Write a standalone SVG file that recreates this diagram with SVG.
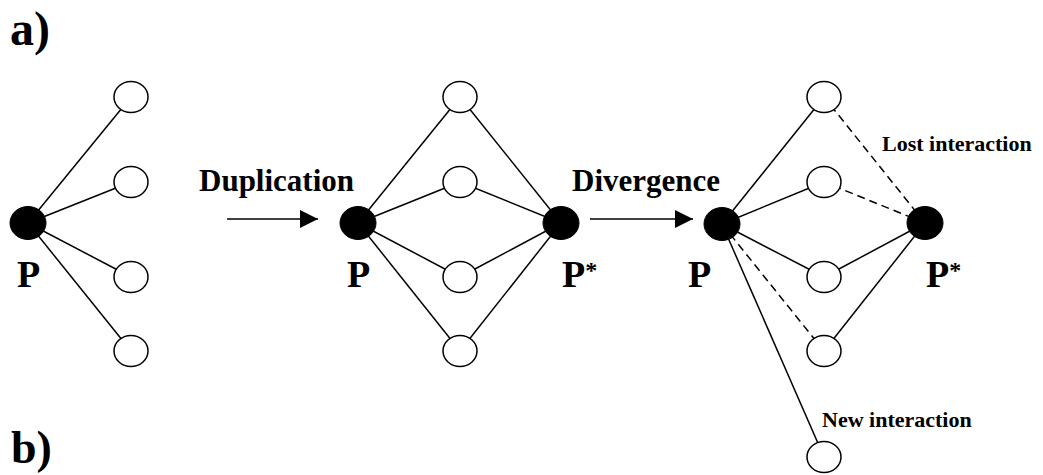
<svg xmlns="http://www.w3.org/2000/svg" width="1043" height="475" viewBox="0 0 1043 475">
<style>
.e{stroke:#000;stroke-width:1.5;fill:none}
.d{stroke:#000;stroke-width:1.5;fill:none;stroke-dasharray:8 5}
.o{fill:#fff;stroke:#000;stroke-width:1.5}
.f{fill:#000;stroke:#000;stroke-width:1}
.t{font-family:"Liberation Serif","Times New Roman",serif;font-weight:bold;fill:#000}
</style>
<defs>
<marker id="ah" viewBox="0 0 18 18" refX="18" refY="9" markerWidth="18" markerHeight="18" markerUnits="userSpaceOnUse" orient="auto">
<path d="M0,0 L18,9 L0,18 Z" fill="#000"/>
</marker>
</defs>
<rect width="1043" height="475" fill="#fff"/>
<text class="t" x="10" y="45" font-size="48">a)</text>
<text class="t" x="11" y="463" font-size="46">b)</text>
<g id="connectors">
<line class="e" x1="28" y1="223" x2="131" y2="97"/>
<line class="e" x1="28" y1="223" x2="131" y2="182"/>
<line class="e" x1="28" y1="223" x2="131" y2="277"/>
<line class="e" x1="28" y1="223" x2="131" y2="351"/>
<line class="e" x1="227" y1="219" x2="318" y2="219" marker-end="url(#ah)"/>
<line class="e" x1="358" y1="223" x2="460" y2="97"/>
<line class="e" x1="358" y1="223" x2="460" y2="182"/>
<line class="e" x1="358" y1="223" x2="460" y2="277"/>
<line class="e" x1="358" y1="223" x2="460" y2="351"/>
<line class="e" x1="561" y1="223" x2="460" y2="97"/>
<line class="e" x1="561" y1="223" x2="460" y2="182"/>
<line class="e" x1="561" y1="223" x2="460" y2="277"/>
<line class="e" x1="561" y1="223" x2="460" y2="351"/>
<line class="e" x1="590" y1="219" x2="693" y2="219" marker-end="url(#ah)"/>
<line class="e" x1="722" y1="224" x2="824" y2="97"/>
<line class="e" x1="722" y1="224" x2="824" y2="182"/>
<line class="e" x1="722" y1="224" x2="824" y2="277"/>
<line class="d" x1="722" y1="224" x2="824" y2="351"/>
<line class="e" x1="722" y1="224" x2="824" y2="457"/>
<line class="d" x1="925" y1="223" x2="824" y2="97"/>
<line class="d" x1="925" y1="223" x2="824" y2="182"/>
<line class="e" x1="925" y1="223" x2="824" y2="277"/>
<line class="e" x1="925" y1="223" x2="824" y2="351"/>
</g>
<g id="p1"><ellipse class="f" cx="28" cy="223" rx="18" ry="16.5"/><text class="t" x="17" y="287" font-size="38">P</text></g>
<g id="n1a"><ellipse class="o" cx="131" cy="97" rx="17" ry="15.5"/></g>
<g id="n1b"><ellipse class="o" cx="131" cy="182" rx="17" ry="15.5"/></g>
<g id="n1c"><ellipse class="o" cx="131" cy="277" rx="17" ry="15.5"/></g>
<g id="n1d"><ellipse class="o" cx="131" cy="351" rx="17" ry="15.5"/></g>
<g id="lbl-dup"><text class="t" x="199" y="191" font-size="31">Duplication</text></g>
<g id="p2"><ellipse class="f" cx="358" cy="223" rx="18" ry="16.5"/><text class="t" x="347" y="287" font-size="38">P</text></g>
<g id="p2s"><ellipse class="f" cx="561" cy="223" rx="18" ry="16.5"/><text class="t" x="562" y="287" font-size="38">P<tspan font-size="24" dy="-9">*</tspan></text></g>
<g id="n2a"><ellipse class="o" cx="460" cy="97" rx="17" ry="15.5"/></g>
<g id="n2b"><ellipse class="o" cx="460" cy="182" rx="17" ry="15.5"/></g>
<g id="n2c"><ellipse class="o" cx="460" cy="277" rx="17" ry="15.5"/></g>
<g id="n2d"><ellipse class="o" cx="460" cy="351" rx="17" ry="15.5"/></g>
<g id="lbl-div"><text class="t" x="572" y="191" font-size="31">Divergence</text></g>
<g id="p3"><ellipse class="f" cx="722" cy="224" rx="18" ry="16.5"/><text class="t" x="688" y="287" font-size="38">P</text></g>
<g id="p3s"><ellipse class="f" cx="925" cy="223" rx="18" ry="16.5"/><text class="t" x="926" y="287" font-size="38">P<tspan font-size="24" dy="-9">*</tspan></text></g>
<g id="n3a"><ellipse class="o" cx="824" cy="97" rx="17" ry="15.5"/></g>
<g id="n3b"><ellipse class="o" cx="824" cy="182" rx="17" ry="15.5"/></g>
<g id="n3c"><ellipse class="o" cx="824" cy="277" rx="17" ry="15.5"/></g>
<g id="n3d"><ellipse class="o" cx="824" cy="351" rx="17" ry="15.5"/></g>
<g id="n3e"><ellipse class="o" cx="824" cy="457" rx="17" ry="15.5"/></g>
<g id="lbl-lost"><text class="t" x="882" y="151" font-size="22">Lost interaction</text></g>
<g id="lbl-new"><text class="t" x="822" y="427" font-size="22">New interaction</text></g>
</svg>
